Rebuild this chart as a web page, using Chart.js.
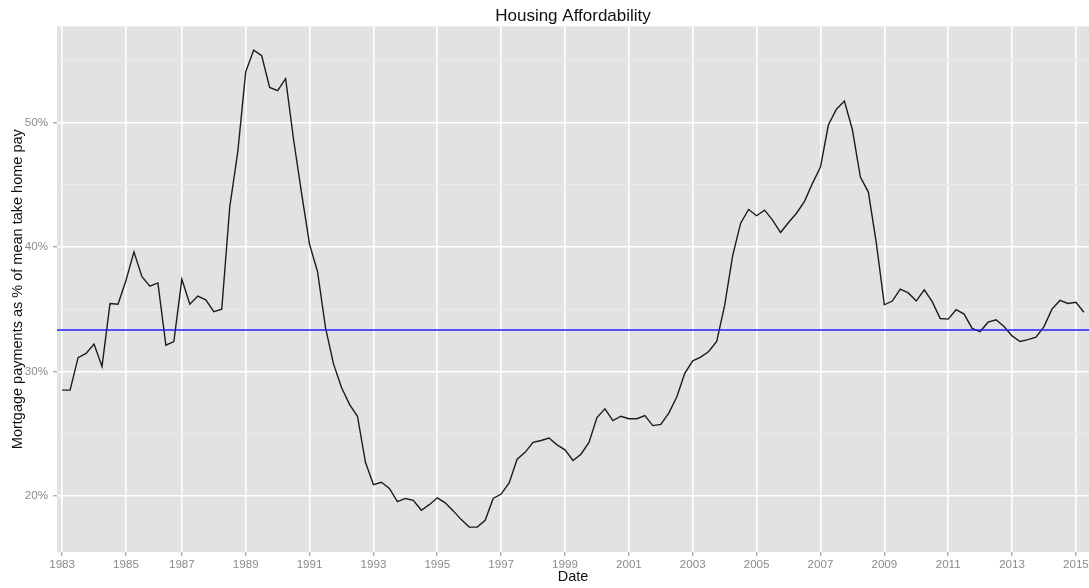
<!DOCTYPE html>
<html><head><meta charset="utf-8">
<script src="https://cdn.jsdelivr.net/npm/chart.js@4/dist/chart.umd.min.js"></script>
<style>html,body{margin:0;padding:0;background:#fff;overflow:hidden}#wrap{width:1089px;height:588px}</style>
</head><body><div id="wrap"><canvas id="c" width="1089" height="588"></canvas></div>
<script>
// ---- data ----
const firstQuarter = 1983.25;           // first plotted quarter (decimal year)
const quarterStep = 0.25;
const affordability = [
 28.5,28.5,31.1,31.45,32.2,30.4,35.45,35.4,
 37.3,39.6,37.6,36.85,37.1,32.1,32.4,37.4,
 35.4,36.05,35.75,34.8,35.0,43.2,47.6,54.05,
 55.8,55.35,52.8,52.55,53.5,48.6,44.3,40.2,
 38.0,33.5,30.6,28.7,27.35,26.4,22.7,20.9,
 21.1,20.6,19.55,19.8,19.65,18.85,19.3,19.85,
 19.45,18.8,18.1,17.5,17.5,18.05,19.8,20.15,
 21.05,22.95,23.5,24.3,24.45,24.65,24.1,23.7,
 22.85,23.35,24.3,26.3,27.0,26.05,26.4,26.2,
 26.2,26.45,25.65,25.75,26.65,27.95,29.85,30.85,
 31.15,31.6,32.4,35.3,39.3,41.9,43.0,42.5,
 42.95,42.15,41.15,41.95,42.7,43.65,45.1,46.4,
 49.8,51.05,51.7,49.4,45.6,44.4,40.3,35.35,
 35.65,36.6,36.3,35.65,36.55,35.6,34.25,34.2,
 34.95,34.6,33.45,33.2,33.95,34.15,33.6,32.85,
 32.4,32.55,32.75,33.6,35.0,35.7,35.45,35.55,
 34.75
];
const referenceLevel = [33.33];
const xTickValues = [1983.25,1985.25,1987,1989,1991,1993,1995,1997,1999,2001,2003,2005,2007,2009,2011,2013,2015];
const xTickLabels = ['1983','1985','1987','1989','1991','1993','1995','1997','1999','2001','2003','2005','2007','2009','2011','2013','2015'];
const xRange = [1983.09, 2015.41];
const yGridValues = [20,25,30,35,40,45,50,55];
const yTickLabels = {20:'20%',30:'30%',40:'40%',50:'50%'};
const yRange = [15.5, 57.7];

// ---- chart ----
const seriesPoints = affordability.map((v, i) => ({x: firstQuarter + i * quarterStep, y: v}));
const refPoints = [{x: xRange[0], y: referenceLevel[0]}, {x: xRange[1], y: referenceLevel[0]}];

const FONT = '"Liberation Sans", Arial, Helvetica, sans-serif';
const panelBg = {
  id: 'panelBg',
  beforeDraw(chart) {
    const a = chart.chartArea, ctx = chart.ctx;
    ctx.save();
    ctx.fillStyle = '#e2e2e2';
    ctx.fillRect(a.left, a.top, a.right - a.left, a.bottom - a.top);
    ctx.restore();
  }
};

new Chart(document.getElementById('c'), {
  type: 'line',
  data: {
    datasets: [
      {label: 'reference', data: refPoints, borderColor: '#1f1fff', borderWidth: 1.5, pointRadius: 0, tension: 0},
      {label: 'affordability', data: seriesPoints, borderColor: '#1c1c1c', borderWidth: 1.4, pointRadius: 0, tension: 0}
    ]
  },
  options: {
    responsive: false,
    devicePixelRatio: 1,
    animation: false,
    events: [],
    layout: {padding: 0},
    plugins: {
      legend: {display: false},
      tooltip: {enabled: false},
      title: {
        display: true,
        text: 'Housing Affordability',
        fullSize: false,
        color: '#111',
        font: {family: FONT, size: 17, weight: 'normal', lineHeight: 1.2},
        padding: {top: 6, bottom: 0}
      }
    },
    scales: {
      x: {
        type: 'linear',
        min: xRange[0], max: xRange[1],
        afterBuildTicks: s => { s.ticks = xTickValues.map(v => ({value: v})); },
        afterFit: s => { s.height = 36; s.paddingLeft = 0; s.paddingRight = 0; },
        ticks: {
          autoSkip: false, maxRotation: 0, minRotation: 0,
          color: '#8a8a8a', padding: 2,
          font: {family: FONT, size: 11.6},
          callback: (v, i) => xTickLabels[i]
        },
        grid: {color: '#ffffff', lineWidth: 1.6, drawTicks: true, tickLength: 4, tickColor: '#8a8a8a', tickWidth: 1},
        border: {display: false},
        title: {display: true, text: 'Date', color: '#111', font: {family: FONT, size: 14.5, lineHeight: 1.2}, padding: {top: 0, bottom: 2}}
      },
      y: {
        type: 'linear',
        min: yRange[0], max: yRange[1],
        afterBuildTicks: s => { s.ticks = yGridValues.map(v => ({value: v})); },
        afterFit: s => { s.width = 57; s.paddingTop = 0; s.paddingBottom = 0; },
        ticks: {
          color: '#8a8a8a', padding: 5,
          font: {family: FONT, size: 11.6},
          callback: v => yTickLabels[v] || ''
        },
        grid: {
          color: c => (c.tick && yTickLabels[c.tick.value]) ? '#ffffff' : '#ececec',
          lineWidth: c => (c.tick && yTickLabels[c.tick.value]) ? 1.6 : 1,
          drawTicks: true, tickLength: 4,
          tickColor: c => (c.tick && yTickLabels[c.tick.value]) ? '#8a8a8a' : 'rgba(0,0,0,0)',
          tickWidth: 1
        },
        border: {display: false},
        title: {display: true, text: 'Mortgage payments as % of mean take home pay', color: '#111', font: {family: FONT, size: 14.5, lineHeight: 1.2}, padding: {top: 9, bottom: 0}}
      }
    }
  },
  plugins: [panelBg]
});
</script>
</body></html>
